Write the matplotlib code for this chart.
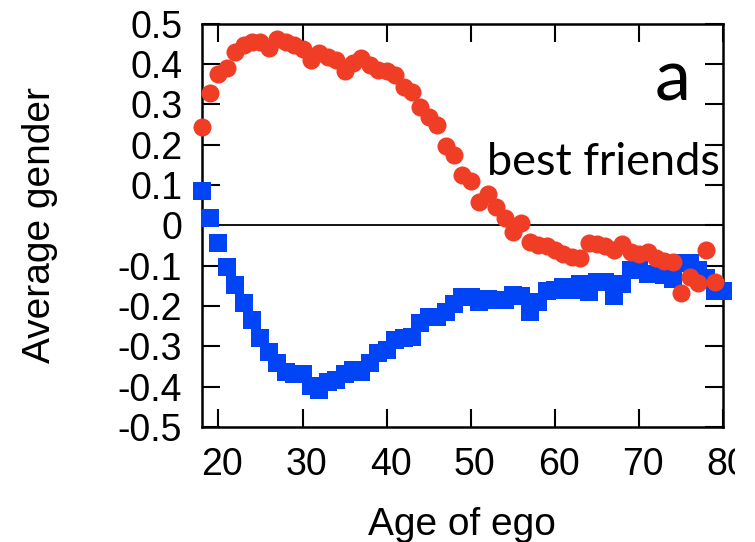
import matplotlib
matplotlib.use("Agg")
import matplotlib.pyplot as plt
import matplotlib.transforms as mtransforms
import numpy as np

# average gender of best friends vs age of ego
ages_female = np.arange(18, 80)
best_female = [0.243, 0.328, 0.376, 0.390, 0.431, 0.448, 0.456, 0.456, 0.440, 0.462,
               0.456, 0.448, 0.437, 0.410, 0.427, 0.419, 0.410, 0.382, 0.402, 0.415,
               0.398, 0.386, 0.382, 0.373, 0.344, 0.332, 0.295, 0.270, 0.249, 0.196,
               0.175, 0.125, 0.110, 0.057, 0.078, 0.047, 0.018, -0.015, 0.005, -0.040,
               -0.048, -0.052, -0.060, -0.070, -0.078, -0.080, -0.044, -0.046, -0.050, -0.060,
               -0.047, -0.065, -0.070, -0.066, -0.080, -0.088, -0.090, -0.168, -0.127, -0.143,
               -0.061, -0.140]

ages_male = np.arange(18, 81)
best_male = [0.086, 0.019, -0.043, -0.104, -0.148, -0.193, -0.234, -0.280, -0.313, -0.340,
             -0.363, -0.368, -0.368, -0.398, -0.408, -0.388, -0.382, -0.368, -0.359, -0.363,
             -0.342, -0.317, -0.309, -0.284, -0.280, -0.276, -0.243, -0.226, -0.226, -0.215,
             -0.195, -0.178, -0.177, -0.190, -0.183, -0.185, -0.186, -0.172, -0.175, -0.215,
             -0.190, -0.162, -0.160, -0.153, -0.160, -0.145, -0.164, -0.139, -0.139, -0.175,
             -0.145, -0.110, -0.110, -0.120, -0.120, -0.123, -0.133, -0.094, -0.094, -0.110,
             -0.130, -0.162, -0.162]

x_ticks = [20, 30, 40, 50, 60, 70, 80]
y_ticks = [0.5, 0.4, 0.3, 0.2, 0.1, 0, -0.1, -0.2, -0.3, -0.4, -0.5]
y_ticklabels = ["0.5", "0.4", "0.3", "0.2", "0.1", "0", "-0.1", "-0.2", "-0.3", "-0.4", "-0.5"]

RED = "#ef3d26"
BLUE = "#0044f6"

plt.rcParams["font.family"] = ["Liberation Sans", "DejaVu Sans"]

fig = plt.figure(figsize=(7.55, 5.42), dpi=100)
ax = fig.add_axes([0.267, 0.212, 0.691, 0.744])

ax.axhline(0, color="black", lw=1.3, zorder=1)
ax.plot(ages_male, best_male, ls="none", marker="s", ms=13, mew=0,
        color=BLUE, clip_on=False, zorder=3)
ax.plot(ages_female, best_female, ls="none", marker="o", ms=13, mew=0,
        color=RED, clip_on=False, zorder=3)

ax.set_xlim(18, 80)
ax.set_ylim(-0.5, 0.5)
ax.set_xticks(x_ticks)
ax.set_yticks(y_ticks)
ax.set_yticklabels(y_ticklabels)

ax.tick_params(direction="in", length=13, width=1.5, top=True, right=True,
               labelsize=27, pad=14)
for s in ax.spines.values():
    s.set_linewidth(1.8)

# x tick labels sit a little right of their ticks in the original,
# and the last one is cut off by the crop of the picture
shift = mtransforms.ScaledTranslation(4 / 100, 0, fig.dpi_scale_trans)
crop = mtransforms.Bbox([[0, 0], [735, 542]])
for lbl in ax.get_xticklabels():
    lbl.set_transform(lbl.get_transform() + shift)
    lbl.set_clip_box(crop)
    lbl.set_clip_on(True)

ax.set_xlabel("Age of ego", fontsize=28, va="baseline")
ax.set_ylabel("Average gender", fontsize=28)
ax.xaxis.set_label_coords(0.5, -0.268)
ax.yaxis.set_label_coords(-0.276, 0.5)

ax.text(0.937, 0.811, "a", transform=ax.transAxes, ha="right", va="baseline",
        fontsize=52, family="Lato")
ax.text(0.547, 0.625, "best friends", transform=ax.transAxes, ha="left",
        va="baseline", fontsize=32.5, family="Lato")

fig.savefig("out.png", dpi=100)
